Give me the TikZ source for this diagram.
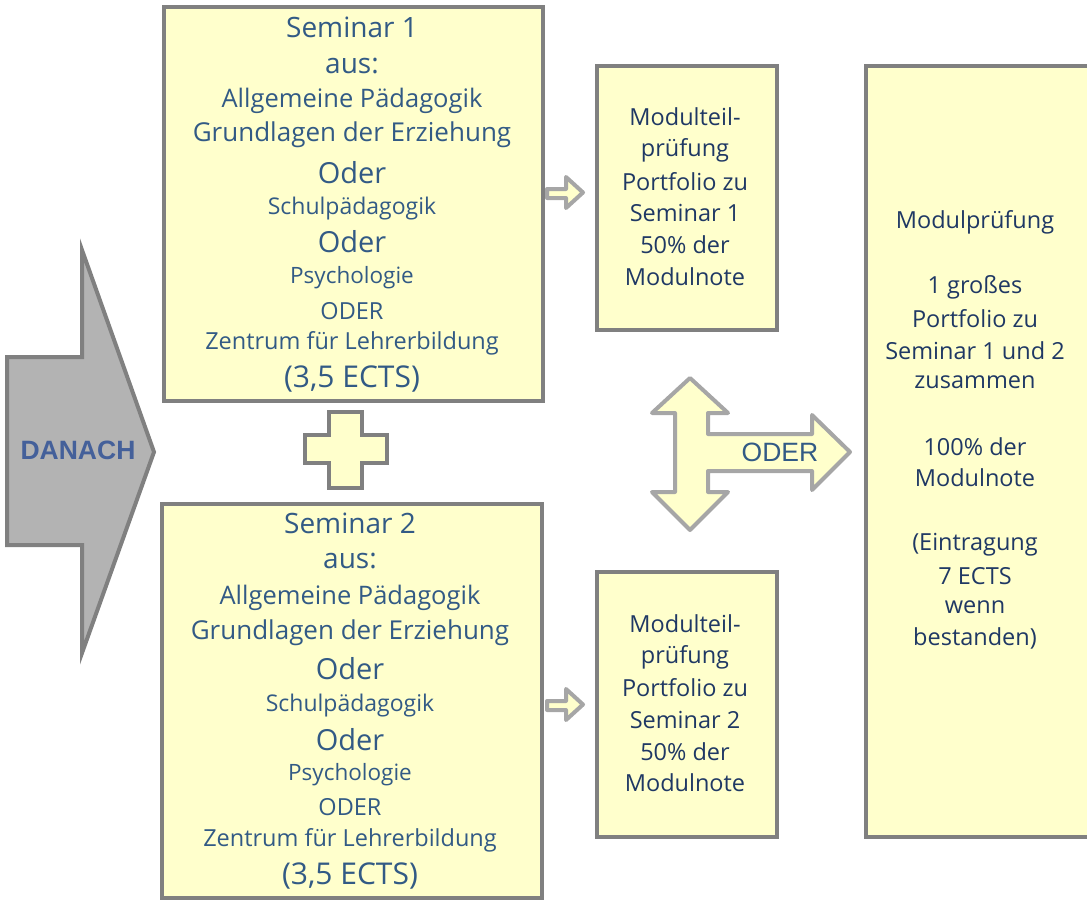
\documentclass[tikz,border=0pt]{standalone}
\usepackage{fontspec}
\setmainfont{Open Sans}
\newfontfamily\arialfont{Liberation Sans}
\usetikzlibrary{positioning}
\definecolor{boxfill}{HTML}{FFFFCC}
\definecolor{boxline}{HTML}{808080}
\definecolor{arrowline}{HTML}{A6A6A6}
\definecolor{arrowgray}{HTML}{B3B3B3}
\definecolor{semtext}{HTML}{325A85}
\definecolor{modtext}{HTML}{1F3864}
\definecolor{danachtext}{HTML}{44609A}
\tikzset{
  box/.style={draw=boxline, fill=boxfill, line width=4pt, rectangle, inner sep=0pt, anchor=north west},
  yarrow/.style={draw=arrowline, fill=boxfill, line width=4pt, line join=round},
  txt/.style={inner sep=0pt, anchor=center},
}
\newcommand{\fs}[1]{\fontsize{#1}{#1}\selectfont}
\begin{document}
\begin{tikzpicture}[x=1pt,y=-1pt]
\useasboundingbox (0,0) rectangle (1087,902);
\begin{scope}
\clip (0,0) rectangle (1087,902);
% boxes
\node[box, minimum width=379pt, minimum height=394pt] (sem1) at (162,5) {};
\node[box, minimum width=380pt, minimum height=394pt] (sem2) at (160,502) {};
\node[box, minimum width=180pt, minimum height=264pt] (mt1) at (595,64) {};
\node[box, minimum width=180pt, minimum height=265pt] (mt2) at (595,570) {};
\node[box, minimum width=232pt, minimum height=771pt] (mp) at (864,64) {};

% big grey arrow
\draw[draw=boxline, fill=arrowgray, line width=4pt]
  (7,357) -- (82,357) -- (82,250) -- (154,452) -- (82,653) -- (82,545) -- (7,545) -- cycle;
\node[txt, font=\arialfont\bfseries\fs{26.5}, text=danachtext] (danach) at (78,450) {DANACH};

% plus sign
\draw[draw=boxline, fill=boxfill, line width=4pt]
  (329,412) -- (362,412) -- (362,435) -- (387,435) -- (387,463) -- (362,463) -- (362,488)
  -- (329,488) -- (329,463) -- (305,463) -- (305,435) -- (329,435) -- cycle;

% small arrows to the partial exams
\draw[yarrow] (547,189) -- (566,189) -- (566,177) -- (583,192.5) -- (566,208) -- (566,198) -- (547,198) -- cycle;
\draw[yarrow] (547,701) -- (566,701) -- (566,689) -- (583,704.5) -- (566,720) -- (566,710) -- (547,710) -- cycle;

% alternative arrow
\draw[yarrow]
  (690,378) -- (728,413) -- (708,413) -- (708,434) -- (812,434) -- (812,415) -- (850,452)
  -- (812,490) -- (812,471) -- (708,471) -- (708,492) -- (728,492) -- (690,530)
  -- (652,492) -- (675,492) -- (675,413) -- (652,413) -- cycle;
\node[txt, font=\arialfont\fs{26.5}, text=semtext] (oder) at (780,452) {ODER};
\end{scope}

% seminar texts
\foreach \t/\y/\s [count=\i] in {
  Seminar 1/27/28, aus:/66/28, Allgemeine Pädagogik/101/25.5,
  Grundlagen der Erziehung/135/26, Oder/173/29, Schulpädagogik/209/23,
  Oder/242/29, Psychologie/278/22.5, ODER/311/23.5,
  Zentrum für Lehrerbildung/343/23.5, {(3,5 ECTS)}/379/30}
  \node[txt, font=\fs{\s}, text=semtext] (s1l\i) at (352,\y) {\t};
\foreach \t/\y/\s [count=\i] in {
  Seminar 2/523/28, aus:/561/28, Allgemeine Pädagogik/598/25.5,
  Grundlagen der Erziehung/633/26, Oder/669/29, Schulpädagogik/706/23,
  Oder/740/29, Psychologie/775/22.5, ODER/807/23.5,
  Zentrum für Lehrerbildung/840/23.5, {(3,5 ECTS)}/876/30}
  \node[txt, font=\fs{\s}, text=semtext] (s2l\i) at (350,\y) {\t};

% partial exam texts
\foreach \t/\y [count=\i] in {
  Modulteil-/117, prüfung/150, Portfolio zu/182, Seminar 1/213, 50\% der/245, Modulnote/277}
  \node[txt, font=\fs{23.5}, text=modtext] (m1l\i) at (685,\y) {\t};
\foreach \t/\y [count=\i] in {
  Modulteil-/624, prüfung/657, Portfolio zu/688, Seminar 2/720, 50\% der/752, Modulnote/783}
  \node[txt, font=\fs{23.5}, text=modtext] (m2l\i) at (685,\y) {\t};

% module exam text
\foreach \t/\y [count=\i] in {
  Modulprüfung/222, 1 großes/287, Portfolio zu/319, Seminar 1 und 2/351, zusammen/382,
  100\% der/447, Modulnote/478, {(Eintragung}/545, 7 ECTS/576, wenn/607, {bestanden)}/638}
  \node[txt, font=\fs{23.5}, text=modtext] (mpl\i) at (975,\y) {\t};
\end{tikzpicture}
\end{document}
